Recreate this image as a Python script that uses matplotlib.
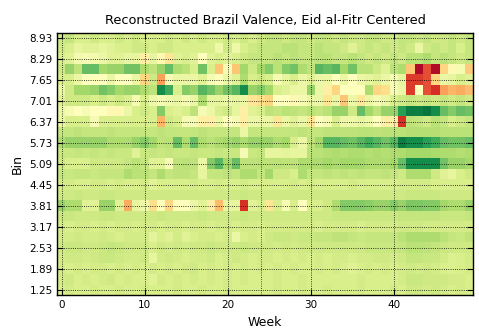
import numpy as np
import matplotlib
matplotlib.use("Agg")
import matplotlib.pyplot as plt

# bin centres (rows, bottom to top) and week index (columns)
bin_centers = [1.25, 1.57, 1.89, 2.21, 2.53, 2.85, 3.17, 3.49, 3.81, 4.13, 4.45, 4.77, 5.09,
               5.41, 5.73, 6.05, 6.37, 6.69, 7.01, 7.33, 7.65, 7.97, 8.29, 8.61, 8.93]
weeks = list(range(50))
eid_week = 24

# reconstructed valence per bin, one list of 50 weeks for each bin
v_125 = [0.60, 0.61, 0.60, 0.60, 0.61, 0.60, 0.60, 0.61, 0.60, 0.60, 0.61, 0.60, 0.60, 0.60, 0.61, 0.60, 0.60, 0.61, 0.60, 0.60,
         0.61, 0.60, 0.60, 0.60, 0.60, 0.60, 0.61, 0.60, 0.60, 0.61, 0.60, 0.60, 0.61, 0.60, 0.60, 0.60, 0.61, 0.60, 0.60, 0.60,
         0.61, 0.60, 0.62, 0.62, 0.61, 0.62, 0.61, 0.60, 0.61, 0.60]
v_157 = [0.61, 0.62, 0.60, 0.61, 0.60, 0.61, 0.62, 0.60, 0.61, 0.60, 0.60, 0.58, 0.61, 0.60, 0.61, 0.60, 0.61, 0.60, 0.61, 0.60,
         0.61, 0.60, 0.61, 0.60, 0.60, 0.60, 0.61, 0.60, 0.60, 0.61, 0.60, 0.60, 0.60, 0.60, 0.60, 0.60, 0.61, 0.60, 0.60, 0.60,
         0.60, 0.61, 0.63, 0.63, 0.62, 0.62, 0.62, 0.61, 0.61, 0.60]
v_189 = [0.61, 0.60, 0.61, 0.60, 0.61, 0.61, 0.60, 0.61, 0.60, 0.61, 0.60, 0.61, 0.60, 0.61, 0.60, 0.61, 0.62, 0.60, 0.61, 0.60,
         0.61, 0.60, 0.61, 0.60, 0.61, 0.60, 0.61, 0.60, 0.61, 0.60, 0.60, 0.61, 0.60, 0.61, 0.60, 0.58, 0.60, 0.61, 0.60, 0.61,
         0.60, 0.61, 0.62, 0.61, 0.62, 0.61, 0.60, 0.59, 0.60, 0.61]
v_221 = [0.61, 0.62, 0.62, 0.61, 0.62, 0.63, 0.63, 0.62, 0.61, 0.61, 0.62, 0.56, 0.61, 0.62, 0.61, 0.60, 0.61, 0.61, 0.62, 0.60,
         0.61, 0.62, 0.61, 0.60, 0.61, 0.61, 0.60, 0.61, 0.60, 0.61, 0.60, 0.61, 0.60, 0.61, 0.61, 0.60, 0.61, 0.61, 0.62, 0.62,
         0.61, 0.62, 0.64, 0.64, 0.63, 0.63, 0.61, 0.59, 0.60, 0.61]
v_253 = [0.62, 0.63, 0.63, 0.62, 0.62, 0.63, 0.64, 0.63, 0.62, 0.62, 0.62, 0.60, 0.62, 0.61, 0.62, 0.61, 0.62, 0.62, 0.63, 0.62,
         0.62, 0.62, 0.63, 0.62, 0.62, 0.62, 0.61, 0.62, 0.61, 0.62, 0.62, 0.62, 0.62, 0.62, 0.62, 0.62, 0.62, 0.63, 0.63, 0.63,
         0.63, 0.64, 0.66, 0.66, 0.65, 0.64, 0.63, 0.62, 0.62, 0.62]
v_285 = [0.61, 0.61, 0.62, 0.61, 0.61, 0.62, 0.61, 0.60, 0.61, 0.61, 0.61, 0.57, 0.60, 0.58, 0.61, 0.58, 0.60, 0.61, 0.61, 0.60,
         0.61, 0.55, 0.60, 0.61, 0.60, 0.62, 0.63, 0.63, 0.62, 0.63, 0.63, 0.64, 0.64, 0.65, 0.65, 0.64, 0.63, 0.64, 0.64, 0.64,
         0.64, 0.66, 0.68, 0.68, 0.68, 0.68, 0.66, 0.64, 0.63, 0.65]
v_317 = [0.61, 0.60, 0.61, 0.61, 0.60, 0.61, 0.60, 0.61, 0.61, 0.60, 0.61, 0.61, 0.60, 0.61, 0.61, 0.60, 0.61, 0.61, 0.60, 0.61,
         0.61, 0.60, 0.61, 0.61, 0.60, 0.61, 0.61, 0.61, 0.61, 0.61, 0.61, 0.60, 0.61, 0.61, 0.61, 0.61, 0.60, 0.61, 0.61, 0.61,
         0.61, 0.62, 0.62, 0.62, 0.61, 0.61, 0.61, 0.61, 0.61, 0.61]
v_349 = [0.63, 0.63, 0.62, 0.62, 0.62, 0.63, 0.63, 0.62, 0.62, 0.62, 0.62, 0.62, 0.63, 0.62, 0.62, 0.62, 0.62, 0.63, 0.62, 0.62,
         0.62, 0.62, 0.63, 0.62, 0.62, 0.62, 0.62, 0.62, 0.62, 0.62, 0.62, 0.62, 0.62, 0.63, 0.63, 0.63, 0.63, 0.63, 0.63, 0.63,
         0.63, 0.64, 0.64, 0.64, 0.64, 0.64, 0.63, 0.63, 0.63, 0.64]
v_381 = [0.72, 0.68, 0.68, 0.58, 0.58, 0.72, 0.72, 0.58, 0.30, 0.56, 0.54, 0.40, 0.50, 0.38, 0.50, 0.50, 0.55, 0.58, 0.45, 0.33,
         0.56, 0.56, 0.10, 0.58, 0.60, 0.42, 0.60, 0.52, 0.60, 0.50, 0.60, 0.60, 0.62, 0.68, 0.75, 0.75, 0.75, 0.74, 0.72, 0.72,
         0.75, 0.72, 0.76, 0.76, 0.75, 0.75, 0.70, 0.68, 0.68, 0.72]
v_413 = [0.62, 0.62, 0.63, 0.62, 0.62, 0.63, 0.63, 0.62, 0.62, 0.62, 0.62, 0.62, 0.62, 0.62, 0.62, 0.62, 0.62, 0.62, 0.62, 0.62,
         0.62, 0.62, 0.63, 0.62, 0.62, 0.62, 0.62, 0.62, 0.62, 0.62, 0.62, 0.62, 0.62, 0.62, 0.62, 0.62, 0.62, 0.62, 0.62, 0.62,
         0.62, 0.62, 0.63, 0.63, 0.63, 0.63, 0.62, 0.62, 0.62, 0.62]
v_445 = [0.61, 0.61, 0.60, 0.60, 0.61, 0.61, 0.60, 0.61, 0.60, 0.60, 0.61, 0.58, 0.60, 0.60, 0.60, 0.60, 0.61, 0.60, 0.60, 0.61,
         0.60, 0.60, 0.61, 0.60, 0.60, 0.60, 0.60, 0.60, 0.61, 0.60, 0.61, 0.60, 0.60, 0.60, 0.60, 0.61, 0.60, 0.60, 0.60, 0.60,
         0.60, 0.61, 0.61, 0.61, 0.61, 0.60, 0.60, 0.60, 0.60, 0.60]
v_477 = [0.64, 0.63, 0.64, 0.64, 0.63, 0.64, 0.64, 0.64, 0.68, 0.66, 0.66, 0.64, 0.68, 0.64, 0.65, 0.65, 0.64, 0.56, 0.64, 0.64,
         0.65, 0.64, 0.68, 0.68, 0.64, 0.70, 0.62, 0.62, 0.60, 0.68, 0.64, 0.64, 0.65, 0.64, 0.65, 0.64, 0.65, 0.64, 0.64, 0.65,
         0.64, 0.62, 0.68, 0.68, 0.68, 0.62, 0.58, 0.56, 0.60, 0.62]
v_509 = [0.62, 0.60, 0.60, 0.60, 0.62, 0.62, 0.62, 0.62, 0.64, 0.66, 0.64, 0.58, 0.58, 0.52, 0.65, 0.66, 0.65, 0.55, 0.75, 0.82,
         0.70, 0.80, 0.65, 0.65, 0.66, 0.65, 0.66, 0.65, 0.65, 0.68, 0.68, 0.68, 0.70, 0.68, 0.70, 0.70, 0.70, 0.68, 0.68, 0.68,
         0.70, 0.80, 0.92, 0.92, 0.92, 0.92, 0.78, 0.72, 0.72, 0.70]
v_541 = [0.63, 0.63, 0.64, 0.63, 0.64, 0.63, 0.64, 0.63, 0.63, 0.58, 0.63, 0.64, 0.63, 0.64, 0.63, 0.63, 0.64, 0.63, 0.63, 0.64,
         0.63, 0.63, 0.52, 0.63, 0.64, 0.56, 0.56, 0.57, 0.56, 0.56, 0.66, 0.66, 0.67, 0.68, 0.67, 0.68, 0.68, 0.67, 0.68, 0.67,
         0.68, 0.68, 0.70, 0.70, 0.70, 0.69, 0.68, 0.68, 0.67, 0.68]
v_573 = [0.68, 0.72, 0.72, 0.72, 0.72, 0.72, 0.68, 0.68, 0.68, 0.72, 0.75, 0.70, 0.65, 0.66, 0.80, 0.68, 0.80, 0.68, 0.66, 0.68,
         0.70, 0.72, 0.68, 0.72, 0.72, 0.72, 0.68, 0.70, 0.60, 0.55, 0.65, 0.70, 0.82, 0.82, 0.80, 0.78, 0.82, 0.85, 0.82, 0.78,
         0.82, 0.95, 0.92, 0.92, 0.88, 0.85, 0.80, 0.78, 0.78, 0.80]
v_605 = [0.64, 0.64, 0.65, 0.64, 0.64, 0.64, 0.65, 0.64, 0.64, 0.64, 0.64, 0.64, 0.65, 0.64, 0.64, 0.64, 0.64, 0.65, 0.64, 0.64,
         0.64, 0.64, 0.55, 0.64, 0.64, 0.64, 0.64, 0.64, 0.64, 0.65, 0.64, 0.64, 0.65, 0.65, 0.65, 0.65, 0.66, 0.66, 0.65, 0.66,
         0.66, 0.66, 0.67, 0.67, 0.67, 0.67, 0.66, 0.66, 0.66, 0.66]
v_637 = [0.55, 0.60, 0.60, 0.60, 0.52, 0.60, 0.60, 0.60, 0.60, 0.60, 0.60, 0.60, 0.32, 0.62, 0.60, 0.52, 0.52, 0.45, 0.45, 0.55,
         0.50, 0.52, 0.45, 0.55, 0.55, 0.55, 0.42, 0.55, 0.58, 0.55, 0.42, 0.50, 0.52, 0.60, 0.54, 0.54, 0.56, 0.54, 0.50, 0.45,
         0.45, 0.10, 0.65, 0.64, 0.62, 0.66, 0.64, 0.60, 0.62, 0.64]
v_669 = [0.55, 0.52, 0.50, 0.52, 0.50, 0.50, 0.48, 0.48, 0.55, 0.60, 0.62, 0.60, 0.75, 0.60, 0.58, 0.60, 0.65, 0.52, 0.55, 0.60,
         0.62, 0.56, 0.45, 0.58, 0.60, 0.65, 0.64, 0.66, 0.65, 0.64, 0.66, 0.64, 0.66, 0.72, 0.72, 0.62, 0.80, 0.70, 0.65, 0.72,
         0.72, 0.88, 0.95, 0.95, 0.97, 0.92, 0.80, 0.75, 0.80, 0.78]
v_701 = [0.58, 0.62, 0.62, 0.62, 0.60, 0.62, 0.60, 0.62, 0.60, 0.52, 0.60, 0.54, 0.52, 0.54, 0.55, 0.52, 0.55, 0.68, 0.56, 0.56,
         0.55, 0.56, 0.55, 0.42, 0.40, 0.38, 0.50, 0.50, 0.48, 0.52, 0.55, 0.55, 0.42, 0.55, 0.35, 0.55, 0.42, 0.55, 0.52, 0.55,
         0.60, 0.62, 0.64, 0.62, 0.64, 0.62, 0.64, 0.62, 0.64, 0.62]
v_733 = [0.55, 0.62, 0.70, 0.70, 0.72, 0.78, 0.75, 0.70, 0.72, 0.72, 0.68, 0.65, 0.92, 0.85, 0.60, 0.75, 0.72, 0.82, 0.78, 0.72,
         0.78, 0.82, 0.92, 0.72, 0.75, 0.70, 0.60, 0.58, 0.55, 0.55, 0.72, 0.55, 0.45, 0.38, 0.50, 0.50, 0.50, 0.68, 0.38, 0.40,
         0.52, 0.55, 0.12, 0.50, 0.15, 0.10, 0.28, 0.32, 0.30, 0.33]
v_765 = [0.60, 0.60, 0.55, 0.50, 0.50, 0.50, 0.55, 0.50, 0.50, 0.55, 0.38, 0.62, 0.28, 0.52, 0.55, 0.55, 0.55, 0.58, 0.52, 0.50,
         0.55, 0.58, 0.68, 0.60, 0.62, 0.60, 0.52, 0.56, 0.60, 0.55, 0.58, 0.55, 0.55, 0.50, 0.55, 0.50, 0.55, 0.56, 0.58, 0.55,
         0.52, 0.56, 0.12, 0.12, 0.15, 0.38, 0.55, 0.56, 0.60, 0.58]
v_797 = [0.62, 0.72, 0.65, 0.80, 0.80, 0.70, 0.72, 0.72, 0.78, 0.78, 0.68, 0.65, 0.72, 0.80, 0.68, 0.66, 0.60, 0.78, 0.60, 0.35,
         0.52, 0.35, 0.70, 0.62, 0.70, 0.75, 0.66, 0.75, 0.78, 0.68, 0.65, 0.82, 0.80, 0.82, 0.70, 0.78, 0.66, 0.66, 0.62, 0.58,
         0.66, 0.68, 0.35, 0.02, 0.15, 0.03, 0.38, 0.48, 0.52, 0.36]
v_829 = [0.60, 0.58, 0.53, 0.52, 0.53, 0.55, 0.58, 0.58, 0.56, 0.56, 0.45, 0.56, 0.48, 0.42, 0.58, 0.60, 0.58, 0.50, 0.58, 0.60,
         0.58, 0.60, 0.62, 0.64, 0.64, 0.64, 0.66, 0.64, 0.66, 0.64, 0.64, 0.66, 0.66, 0.64, 0.64, 0.66, 0.64, 0.62, 0.64, 0.62,
         0.64, 0.62, 0.66, 0.66, 0.68, 0.64, 0.66, 0.64, 0.62, 0.64]
v_861 = [0.62, 0.60, 0.56, 0.58, 0.58, 0.56, 0.58, 0.60, 0.60, 0.62, 0.62, 0.60, 0.62, 0.62, 0.60, 0.60, 0.60, 0.60, 0.60, 0.54,
         0.62, 0.54, 0.60, 0.62, 0.64, 0.64, 0.64, 0.66, 0.66, 0.64, 0.64, 0.66, 0.64, 0.64, 0.62, 0.58, 0.62, 0.64, 0.62, 0.64,
         0.62, 0.64, 0.62, 0.55, 0.62, 0.64, 0.62, 0.64, 0.60, 0.64]
v_893 = [0.62, 0.64, 0.60, 0.60, 0.62, 0.60, 0.60, 0.62, 0.60, 0.62, 0.60, 0.60, 0.60, 0.62, 0.60, 0.62, 0.60, 0.62, 0.60, 0.60,
         0.62, 0.60, 0.62, 0.60, 0.62, 0.64, 0.64, 0.62, 0.64, 0.64, 0.62, 0.64, 0.64, 0.62, 0.64, 0.62, 0.62, 0.64, 0.64, 0.62,
         0.62, 0.64, 0.64, 0.62, 0.64, 0.62, 0.62, 0.64, 0.62, 0.64]

valence = np.array([v_125, v_157, v_189, v_221, v_253, v_285, v_317, v_349, v_381, v_413, v_445, v_477, v_509,
                    v_541, v_573, v_605, v_637, v_669, v_701, v_733, v_765, v_797, v_829, v_861, v_893])

fig = plt.figure(figsize=(4.79, 3.28), dpi=100)
ax = fig.add_axes([0.12, 0.1, 0.867, 0.8])

ax.imshow(valence, cmap="RdYlGn", vmin=0, vmax=1, origin="lower",
          aspect="auto", interpolation="nearest",
          extent=[weeks[0] - 0.5, weeks[-1] + 0.5, -0.5, len(bin_centers) - 0.5])
ax.axvline(eid_week, color="b", linestyle=":", linewidth=0.6)

ax.set_xticks(weeks[::10])
ax.set_yticks(range(0, len(bin_centers), 2))
ax.set_yticklabels(["%.2f" % b for b in bin_centers[::2]])
ax.grid(True, color="k", linestyle=":", linewidth=0.6)
ax.tick_params(direction="in", top=True, right=True, labelsize=7.5, length=4)
for s in ax.spines.values():
    s.set_linewidth(1.0)

ax.set_xlabel("Week", fontsize=9)
ax.set_ylabel("Bin", fontsize=9)
ax.set_title("Reconstructed Brazil Valence, Eid al-Fitr Centered", fontsize=9.3)

fig.savefig("out.png", dpi=100)
